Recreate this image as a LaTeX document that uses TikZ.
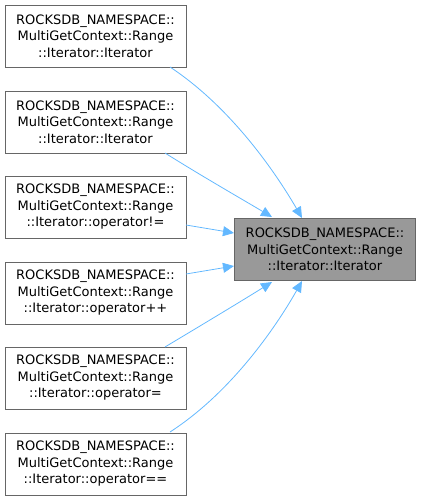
\documentclass[tikz,border=0pt]{standalone}
\usepackage{fontspec}
\setmainfont{DejaVu Sans}
\usetikzlibrary{arrows.meta}
\definecolor{edgeblue}{HTML}{63B8FF}
\definecolor{boxgray}{HTML}{999999}
\definecolor{borderg}{HTML}{666666}
\begin{document}
\begin{tikzpicture}[x=1pt,y=-1pt,
  fn/.style={draw=borderg, line width=0.8pt, fill=white, minimum width=181pt, minimum height=62pt,
    inner sep=0pt, align=center, font=\fontsize{13}{16.5}\selectfont},
  cur/.style={fn, fill=boxgray},
  call/.style={draw=edgeblue, line width=0.8pt, -{Triangle[length=11pt,width=10pt]}}]
\useasboundingbox (0,0) rectangle (421,499);
\node[fn] (a) at (95.5,36) {ROCKSDB\_NAMESPACE::\\MultiGetContext::Range\\::Iterator::Iterator};
\node[fn] (b) at (95.5,122) {ROCKSDB\_NAMESPACE::\\MultiGetContext::Range\\::Iterator::Iterator};
\node[fn] (c) at (95.5,207) {ROCKSDB\_NAMESPACE::\\MultiGetContext::Range\\::Iterator::operator!=};
\node[fn] (d) at (95.5,293) {ROCKSDB\_NAMESPACE::\\MultiGetContext::Range\\::Iterator::operator++};
\node[fn] (e) at (95.5,378) {ROCKSDB\_NAMESPACE::\\MultiGetContext::Range\\::Iterator::operator=};
\node[fn] (f) at (95.5,464) {ROCKSDB\_NAMESPACE::\\MultiGetContext::Range\\::Iterator::operator==};
\node[cur] (t) at (325,249.5) {ROCKSDB\_NAMESPACE::\\MultiGetContext::Range\\::Iterator::Iterator};
\draw[call] (170,67) .. controls (235,110) and (280,180) .. (302,218);
\draw[call] (165,153) .. controls (200,175) and (240,198) .. (272,217);
\draw[call] (186,225) -- (234,233);
\draw[call] (186,274) -- (234,266);
\draw[call] (165,347) .. controls (200,326) and (240,302) .. (272,282);
\draw[call] (170,432) .. controls (235,390) and (280,320) .. (302,281);
\end{tikzpicture}
\end{document}
